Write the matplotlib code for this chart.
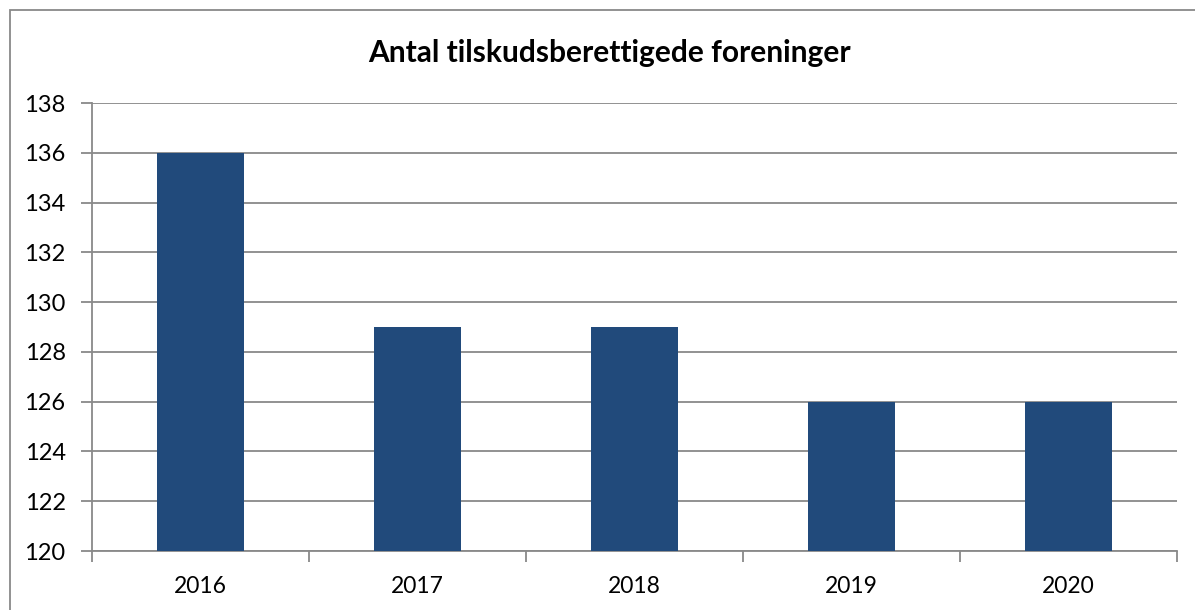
import matplotlib
matplotlib.use('Agg')
import matplotlib.pyplot as plt
from matplotlib.patches import Rectangle
import numpy as np

plt.rcParams['font.family'] = ['Lato', 'DejaVu Sans']

# data
years = ['2016', '2017', '2018', '2019', '2020']
antal = [136, 129, 129, 126, 126]
y_ticks = [120, 122, 124, 126, 128, 130, 132, 134, 136, 138]

W, H = 1195, 610
fig = plt.figure(figsize=(W / 100, H / 100), dpi=100)
ax = fig.add_axes([92 / W, 1 - 551 / H, (1177 - 92) / W, (551 - 103) / H])

grid_col = '#898989'

# outer chart frame (right/bottom edges fall off the picture)
fig.patches.append(Rectangle((10 / W, -0.1), 1.2, 1 - 10 / H + 0.1,
                             transform=fig.transFigure, fill=False,
                             edgecolor=grid_col, linewidth=1.3))

x = np.arange(len(years))
ax.bar(x, antal, width=0.4, bottom=0, color='#214A7B', zorder=3)

ax.set_xlim(-0.5, len(years) - 0.5)
ax.set_ylim(120, 138)
ax.set_yticks(y_ticks)
ax.yaxis.grid(True, color=grid_col, linewidth=1.3, zorder=0)

# category labels in the middle, tick marks on the boundaries
ax.set_xticks(x)
ax.set_xticklabels(years)
ax.tick_params(axis='x', length=0, pad=18, labelsize=16.5)
ax.set_xticks(np.arange(-0.5, len(years)), minor=True)
ax.tick_params(axis='x', which='minor', length=8, width=1.3, color=grid_col,
               direction='out')
ax.tick_params(axis='y', length=8, width=1.3, color=grid_col, pad=11,
               labelsize=17)

for s in ['top', 'right']:
    ax.spines[s].set_visible(False)
for s in ['left', 'bottom']:
    ax.spines[s].set_color(grid_col)
    ax.spines[s].set_linewidth(1.3)

fig.text(609 / W, 1 - 53 / H, 'Antal tilskudsberettigede foreninger',
         ha='center', va='center', fontsize=21.5, fontweight='bold')

fig.savefig('out.png', dpi=100, facecolor='white')
plt.close()
